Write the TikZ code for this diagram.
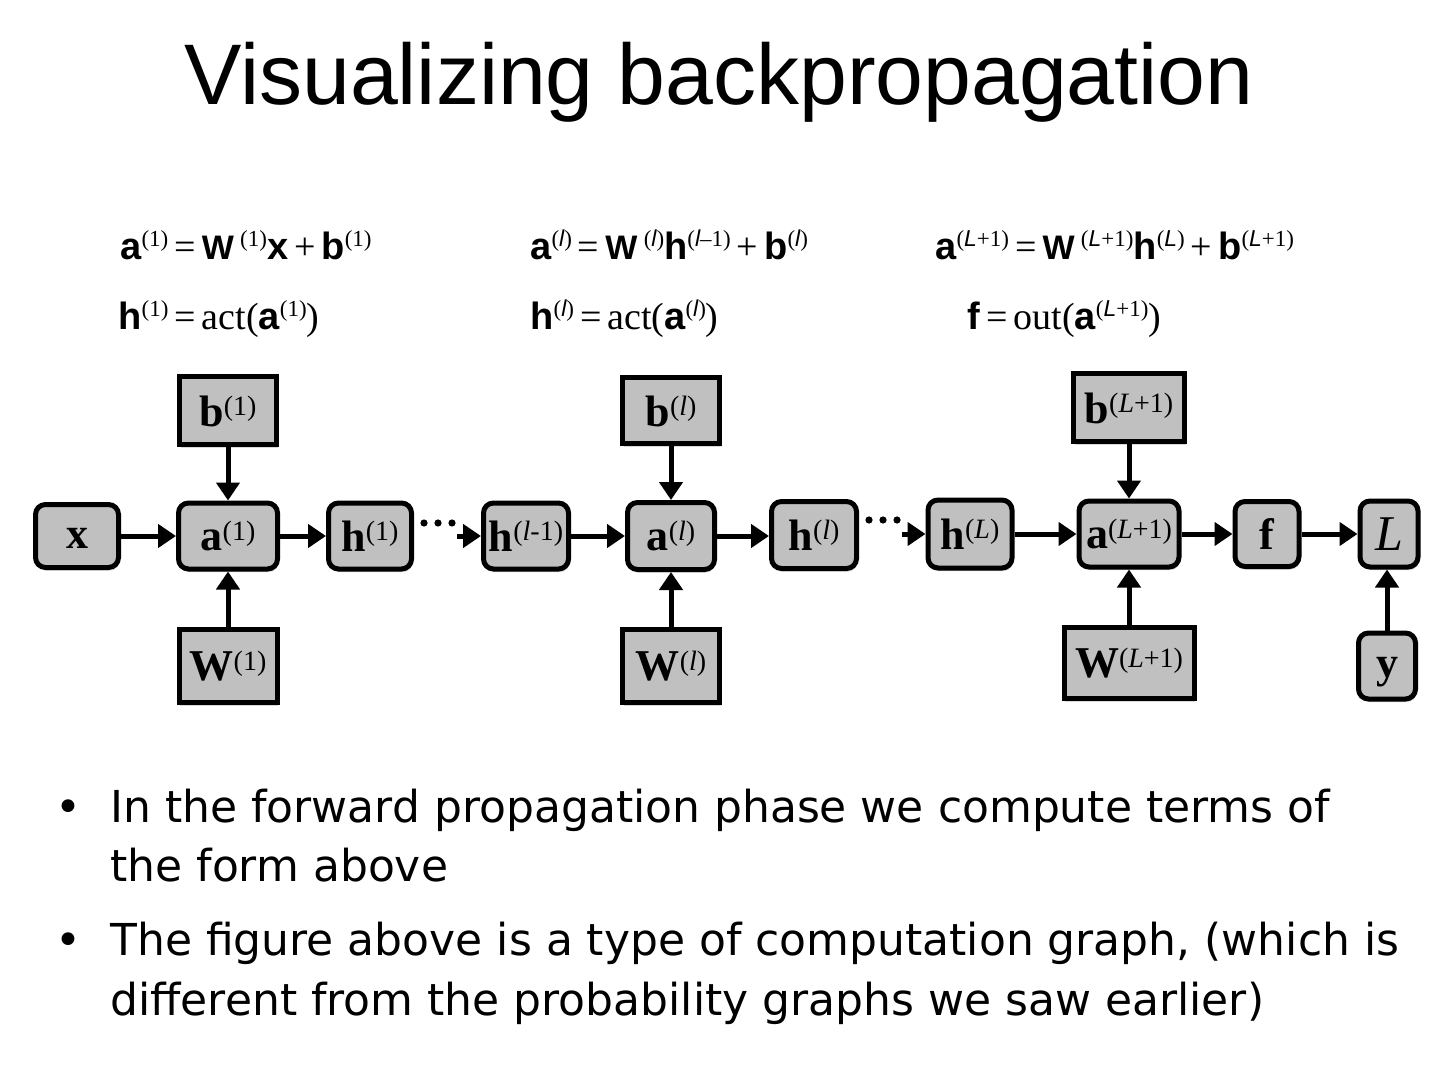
\documentclass[tikz,border=0pt]{standalone}
\usepackage{fontspec}
\setmainfont{Liberation Serif}
\setsansfont{Liberation Sans}
\newfontfamily\bulletfont{DejaVu Sans}
\usetikzlibrary{arrows.meta,shadows,decorations.markings}

\definecolor{boxgray}{RGB}{192,192,192}
\newcommand{\vb}[1]{{\sffamily\bfseries #1}}
\newcommand{\vW}{{\fontsize{17}{17}\selectfont\sffamily\bfseries W}}
\newcommand{\es}[1]{\raisebox{6.5pt}{\fontsize{11.5}{11.5}\selectfont\rmfamily\mdseries #1}}
\newcommand{\esl}{{\sffamily\itshape l}}
\newcommand{\esL}{{\sffamily\itshape L}}
\newcommand{\eqop}[1]{\kern3pt#1\kern3pt}
\newcommand{\bs}[1]{\raisebox{5.2pt}{\fontsize{14}{14}\selectfont\mdseries #1}}

\tikzset{
  box/.style={draw=black, line width=2.5pt, fill=boxgray, inner sep=0pt,
    font=\fontsize{22}{22}\selectfont\bfseries,
    drop shadow={shadow xshift=0.6pt, shadow yshift=-1.6pt, fill=black!30}},
  rbox/.style={box, rounded corners=5pt},
  arr/.style={line width=2.5pt, -{Triangle[length=9pt,width=11.5pt]}},
  dotline/.style={decorate, decoration={markings,
      mark=at position 5pt with {\fill[black] (0pt,0pt) circle (1.8pt);},
      mark=at position 12pt with {\fill[black] (0pt,0pt) circle (1.8pt);},
      mark=at position 19pt with {\fill[black] (0pt,0pt) circle (1.8pt);}}},
  eq/.style={anchor=base west, inner sep=0pt, font=\fontsize{19}{19}\selectfont},
  btext/.style={anchor=base west, inner sep=0pt, font=\bulletfont\fontsize{22}{22}\selectfont},
  bullet/.style={anchor=base, inner sep=0pt, font=\bulletfont\fontsize{22}{22}\selectfont},
}

\begin{document}
\begin{tikzpicture}[x=0.5pt,y=-0.5pt]
\fill[white] (0,0) rectangle (1440,1080);
\useasboundingbox (0,0) rectangle (1440,1080);

% title
\node[anchor=base, inner sep=0pt, font=\sffamily\fontsize{43}{43}\selectfont] (title) at (719,105) {Visualizing backpropagation};

% equations
\node[eq] (e1a) at (120,260) {\vb{a}\es{(1)}\eqop{=}\vW\,\es{(1)}\vb{x}\eqop{+}\vb{b}\es{(1)}};
\node[eq] (e1b) at (118,330) {\vb{h}\es{(1)}\eqop{=}act(\vb{a}\es{(1)})};
\node[eq] (e2a) at (530,260) {\vb{a}\es{(\esl)}\eqop{=}\vW\,\es{(\esl)}\vb{h}\es{(\esl–1)}\eqop{+}\vb{b}\es{(\esl)}};
\node[eq] (e2b) at (530,330) {\vb{h}\es{(\esl)}\eqop{=}act(\vb{a}\es{(\esl)})};
\node[eq] (e3a) at (935,260) {\vb{a}\es{(\esL+1)}\eqop{=}\vW\,\es{(\esL+1)}\vb{h}\es{(\esL)}\eqop{+}\vb{b}\es{(\esL+1)}};
\node[eq] (e3b) at (967,330) {\vb{f}\eqop{=}out(\vb{a}\es{(\esL+1)})};

% group 1
\node[rbox, minimum width=41.5pt, minimum height=31.5pt, text height=12pt, text depth=0pt] (x) at (77,536) {x};
\node[box, minimum width=48.5pt, minimum height=34pt] (b1) at (228,411) {b\bs{(1)}};
\node[rbox, minimum width=49.5pt, minimum height=33pt] (a1) at (228,536) {a\bs{(1)}};
\node[rbox, minimum width=41.5pt, minimum height=33pt] (h1) at (370,536) {h\bs{(1)}};
\node[box, minimum width=49pt, minimum height=36.5pt] (W1) at (228,666) {W\bs{(1)}};

% group 2
\node[rbox, minimum width=42.5pt, minimum height=33pt] (hlm1) at (526,536) {h\bs{(\textit{l}-1)}};
\node[box, minimum width=48.5pt, minimum height=33pt] (bl) at (671,411) {b\bs{(\textit{l})}};
\node[rbox, minimum width=43.5pt, minimum height=33.5pt] (al) at (671,536) {a\bs{(\textit{l})}};
\node[rbox, minimum width=42.5pt, minimum height=33.5pt] (hl) at (814,535) {h\bs{(\textit{l})}};
\node[box, minimum width=48.5pt, minimum height=36.5pt] (Wl) at (671,666) {W\bs{(\textit{l})}};

% group 3
\node[rbox, minimum width=42pt, minimum height=34pt] (hL) at (970,534) {h\bs{(\textit{L})}};
\node[box, minimum width=55.5pt, minimum height=34pt] (bL1) at (1129,408) {b\bs{(\textit{L}+1)}};
\node[rbox, minimum width=50pt, minimum height=33pt] (aL1) at (1129,534) {a\bs{(\textit{L}+1)}};
\node[rbox, minimum width=32pt, minimum height=32.5pt] (f) at (1267,534) {f};
\node[rbox, minimum width=29pt, minimum height=33pt, font=\fontsize{25}{25}\selectfont\itshape] (L) at (1389,534) {L};
\node[box, minimum width=65pt, minimum height=35.5pt] (WL1) at (1129,663) {W\bs{(\textit{L}+1)}};
\node[rbox, minimum width=28.5pt, minimum height=33pt, text height=11pt, text depth=0pt] (y) at (1387,666) {y};

% connectors
\draw[arr] (x) -- (a1);
\draw[arr] (b1) -- (a1);
\draw[arr] (W1) -- (a1);
\draw[arr] (a1) -- (h1);
\path[dotline] ([yshift=6.5pt]h1.east) -- ([yshift=6.5pt]hlm1.west);
\draw[arr] ([xshift=-12pt]hlm1.west) -- (hlm1.west);

\draw[arr] (hlm1) -- (al);
\draw[arr] (bl) -- (al);
\draw[arr] (Wl) -- (al);
\draw[arr] (al.east) -- (al.east -| hl.west);
\path[dotline] ([yshift=7.5pt]hl.east) -- ([yshift=7pt]hL.west);
\draw[arr] ([xshift=-12pt]hL.west) -- (hL.west);

\draw[arr] (hL) -- (aL1);
\draw[arr] (bL1) -- (aL1);
\draw[arr] (WL1) -- (aL1);
\draw[arr] (aL1) -- (f);
\draw[arr] (f) -- (L);
\draw[arr] (y.north) -- (L.south -| y.north);

% bullets
\node[bullet] (bu1) at (68,822) {•};
\node[btext] (t1) at (110,822) {In the forward propagation phase we compute terms of};
\node[btext] (t2) at (110,881) {the form above};
\node[bullet] (bu2) at (68,955) {•};
\node[btext] (t3) at (110,955) {The figure above is a type of computation graph, (which is};
\node[btext] (t4) at (110,1015) {different from the probability graphs we saw earlier)};
\end{tikzpicture}
\end{document}
